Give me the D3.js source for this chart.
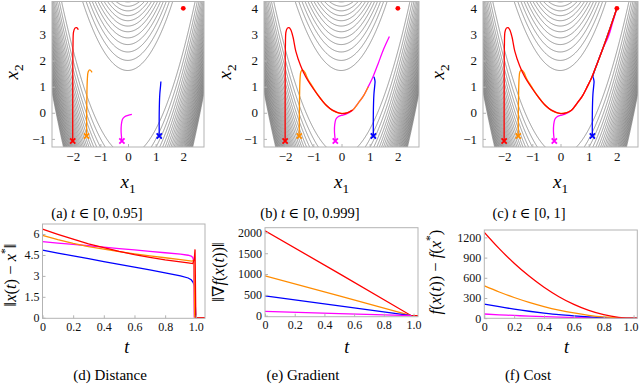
<!DOCTYPE html>
<html>
<head>
<meta charset="utf-8">
<script src="https://cdn.jsdelivr.net/npm/d3@7"></script>
<style>
body { margin: 0; background: #fff; }
svg { font-family: "Liberation Serif", "DejaVu Serif", serif; }
</style>
</head>
<body>
<svg id="chart" width="640" height="385"></svg>
<script>
// ---- data ----
var colors = { red: '#ff0000', orange: '#ff8c00', blue: '#0000ff', magenta: '#ff00ff' };

var xTicksTop = [-2, -1, 0, 1, 2];
var yTicksTop = [-1, 0, 1, 2, 3, 4];
var contourLevels = d3.range(135, 2350, 70);
var xStar = [2, 4];

// trajectories: [x1, x2, t]
var trajRed = [[-2.0, -1.08, 0], [-2.0, 0.5, 0.4], [-1.99, 2.6, 0.85], [-1.97, 3.1, 0.92], [-1.92, 3.24, 0.94],
  [-1.86, 3.26, 0.945], [-1.8, 3.18, 0.95], [-1.72, 2.9, 0.96], [-1.62, 2.35, 0.97], [-1.45, 1.8, 0.978],
  [-1.27, 1.38, 0.984], [-1.0, 0.92, 0.988], [-0.79, 0.61, 0.991], [-0.55, 0.3, 0.994], [-0.32, 0.1, 0.996],
  [0, -0.03, 0.998], [0.2, 0.0, 0.9985], [0.39, 0.1, 0.999], [0.6, 0.38, 0.9993], [0.78, 0.65, 0.9994],
  [0.95, 1.0, 0.9995], [1.1, 1.33, 0.9996], [1.3, 1.88, 0.9997], [1.5, 2.45, 0.9998], [1.75, 3.2, 0.9999], [2.0, 4.0, 1]];
var trajOrange = [[-1.5, -0.89, 0], [-1.49, 0.5, 0.5], [-1.47, 1.3, 0.85], [-1.44, 1.57, 0.92], [-1.38, 1.64, 0.94],
  [-1.3, 1.55, 0.95], [-1.2, 1.3, 0.965], [-1.05, 1.04, 0.975], [-0.85, 0.7, 0.985], [-0.5, 0.24, 0.99],
  [-0.2, 0.02, 0.995], [0.1, -0.02, 0.997], [0.39, 0.1, 0.998], [0.6, 0.38, 0.9985], [0.78, 0.65, 0.9988],
  [0.95, 1.0, 0.999], [1.1, 1.33, 0.9995], [1.5, 2.45, 0.9998], [2.0, 4.0, 1]];
var trajBlue = [[1.13, -0.89, 0], [1.13, 0, 0.5], [1.15, 0.7, 0.8], [1.18, 1.05, 0.9], [1.19, 1.2, 0.95],
  [1.17, 1.32, 0.98], [1.15, 1.38, 0.999], [1.3, 1.88, 0.9995], [1.5, 2.45, 0.9997], [2.0, 4.0, 1]];
var trajMagenta = [[-0.22, -1.08, 0], [-0.25, -0.7, 0.4], [-0.24, -0.45, 0.7], [-0.2, -0.25, 0.85], [-0.12, -0.15, 0.9],
  [0, -0.1, 0.93], [0.14, -0.06, 0.95], [0.39, 0.1, 0.97], [0.6, 0.38, 0.98], [0.78, 0.65, 0.99], [0.95, 1.0, 0.994],
  [1.1, 1.33, 0.996], [1.3, 1.88, 0.997], [1.5, 2.45, 0.998], [1.7, 2.92, 0.999], [1.85, 3.45, 0.9995], [2.0, 4.0, 1]];

var tTicks = [0, 0.2, 0.4, 0.6, 0.8, 1.0];

// distance ||x(t) - x*||: [t, value]
var distRed = [[0, 6.35], [0.1, 5.98], [0.2, 5.63], [0.3, 5.3], [0.4, 5.02], [0.5, 4.76], [0.6, 4.53], [0.7, 4.33],
  [0.8, 4.15], [0.9, 4.0], [0.95, 3.93], [0.98, 3.88], [0.99, 4.2], [0.995, 4.9], [0.998, 2.0], [1.0, 0], [1.06, 0]];
var distOrange = [[0, 5.9], [0.1, 5.6], [0.2, 5.33], [0.3, 5.1], [0.4, 4.92], [0.5, 4.74], [0.6, 4.58], [0.7, 4.44],
  [0.8, 4.3], [0.9, 4.17], [0.95, 4.1], [0.975, 4.06], [0.988, 4.12], [0.992, 0]];
var distMagenta = [[0, 5.45], [0.1, 5.35], [0.2, 5.26], [0.3, 5.16], [0.4, 5.06], [0.5, 4.96], [0.6, 4.86], [0.7, 4.76],
  [0.8, 4.66], [0.9, 4.56], [0.95, 4.48], [0.97, 4.42], [0.98, 4.32], [0.986, 4.1], [0.99, 0]];
var distBlue = [[0, 4.85], [0.1, 4.64], [0.2, 4.43], [0.3, 4.23], [0.4, 4.03], [0.5, 3.83], [0.6, 3.63], [0.7, 3.43],
  [0.8, 3.22], [0.9, 3.0], [0.95, 2.85], [0.97, 2.72], [0.98, 2.58], [0.992, 2.3], [1.0, 0]];
var distTicks = [0, 1.5, 3, 4.5, 6];

// gradient ||grad f(x(t))||
var gradRed = [[0, 2040], [0.5, 1010], [0.985, 0], [1.03, 0]];
var gradOrange = [[0, 955], [0.5, 475], [0.985, 0]];
var gradBlue = [[0, 475], [0.5, 238], [0.985, 0]];
var gradMagenta = [[0, 105], [0.5, 52], [0.985, 0]];
var gradTicks = [0, 500, 1000, 1500, 2000];

// cost f(x(t)) - f(x*)
var tCost = [0, 0.1, 0.2, 0.3, 0.4, 0.5, 0.6, 0.7, 0.8, 0.9, 1.0, 1.025];
var costRed = [1275, 1033, 816, 625, 459, 319, 204, 115, 51, 13, 0, 0];
var costOrange = [480, 389, 307, 235, 173, 120, 77, 43, 19, 5, 0, 0];
var costBlue = [210, 170, 134, 103, 76, 52, 34, 19, 8, 2, 0, 0];
var costMagenta = [62, 50, 40, 30, 22, 15, 10, 6, 2, 1, 0, 0];
var costTicks = [0, 300, 600, 900, 1200];

// ---- drawing ----
var svg = d3.select('#chart');
var defs = svg.append('defs');
var frameColor = '#b3b3b3';

function f(a, b) {
  return (2 - a) * (2 - a) + 50 * (b - a * a) * (b - a * a);
}

// contour grid, a bit larger than the plotted window
var gx0 = -3.1, gx1 = 3.1, gy0 = -1.6, gy1 = 4.6, nx = 320, ny = 320;
var stepX = (gx1 - gx0) / (nx - 1), stepY = (gy1 - gy0) / (ny - 1);
var values = new Array(nx * ny);
for (var j = 0; j < ny; j++) {
  for (var i = 0; i < nx; i++) {
    values[j * nx + i] = f(gx0 + i * stepX, gy0 + j * stepY);
  }
}
var contourSet = d3.contours().size([nx, ny]).thresholds(contourLevels)(values);

function addText(g, parts, size) {
  parts.forEach(function (p) {
    var ts = g.append('tspan').text(p.s);
    if (p.i) ts.attr('font-style', 'italic');
    if (p.sub) ts.attr('font-size', size * 0.7).attr('dy', size * 0.28);
    if (p.sup) ts.attr('font-size', size * 0.7).attr('dy', -size * 0.4);
    if (p.back) ts.attr('dy', p.back);
  });
}

function styleAxis(a, size) {
  a.attr('font-family', null).attr('font-size', null);
  a.select('.domain').remove();
  a.selectAll('line').attr('stroke', frameColor);
  a.selectAll('text').attr('font-size', size).attr('fill', '#111');
}

var topFrames = [
  { id: 'a', left: 52, right: 204, tMax: 0.95, cx: 97, labelX: 13, cap: ' ∈ [0, 0.95]' },
  { id: 'b', left: 264, right: 419, tMax: 0.999, cx: 310, labelX: 226, cap: ' ∈ [0, 0.999]' },
  { id: 'c', left: 483, right: 638, tMax: 1, cx: 529, labelX: 439, cap: ' ∈ [0, 1]' }
];
var trajs = [
  { d: trajMagenta, c: colors.magenta },
  { d: trajBlue, c: colors.blue },
  { d: trajOrange, c: colors.orange },
  { d: trajRed, c: colors.red }
];

topFrames.forEach(function (p) {
  var top = 1.5, bottom = 147;
  var mid = (p.left + p.right) / 2, half = (p.right - p.left) / 2;
  var x = d3.scaleLinear().domain([-2.75, 2.75]).range([mid - half, mid + half]);
  var y = d3.scaleLinear().domain([-1.31, 4.26]).range([bottom, top]);
  var g = svg.append('g');

  defs.append('clipPath').attr('id', 'clip-' + p.id)
    .append('rect').attr('x', p.left).attr('y', top).attr('width', p.right - p.left).attr('height', bottom - top);

  var proj = d3.geoTransform({
    point: function (px, py) {
      this.stream.point(x(gx0 + (px - 0.5) * stepX), y(gy0 + (py - 0.5) * stepY));
    }
  });
  var path = d3.geoPath(proj);
  var plot = g.append('g').attr('clip-path', 'url(#clip-' + p.id + ')');
  plot.selectAll('path.ct').data(contourSet).enter().append('path')
    .attr('class', 'ct')
    .attr('d', path)
    .attr('fill', 'none')
    .attr('stroke', '#5a5a5a')
    .attr('stroke-width', 0.6);

  var line = d3.line()
    .x(function (d) { return x(d[0]); })
    .y(function (d) { return y(d[1]); })
    .curve(d3.curveCatmullRom.alpha(0.5));
  trajs.forEach(function (tr) {
    var pts = tr.d.filter(function (d) { return d[2] <= p.tMax + 1e-9; });
    plot.append('path').attr('d', line(pts))
      .attr('fill', 'none').attr('stroke', tr.c).attr('stroke-width', 1.3);
  });
  trajs.forEach(function (tr) {
    var s = tr.d[0], cx = x(s[0]), cy = y(s[1]), r = 2.6;
    plot.append('path')
      .attr('d', 'M' + (cx - r) + ',' + (cy - r) + 'L' + (cx + r) + ',' + (cy + r) +
        'M' + (cx - r) + ',' + (cy + r) + 'L' + (cx + r) + ',' + (cy - r))
      .attr('stroke', tr.c).attr('stroke-width', 1.8);
  });
  plot.append('circle').attr('cx', x(xStar[0])).attr('cy', y(xStar[1])).attr('r', 2.4).attr('fill', colors.red);

  g.append('rect').attr('x', p.left).attr('y', top).attr('width', p.right - p.left).attr('height', bottom - top)
    .attr('fill', 'none').attr('stroke', frameColor);

  var ax = g.append('g').attr('transform', 'translate(0,' + bottom + ')')
    .call(d3.axisBottom(x).tickValues(xTicksTop).tickSize(-3).tickPadding(5).tickFormat(d3.format('d')));
  var ay = g.append('g').attr('transform', 'translate(' + p.left + ',0)')
    .call(d3.axisLeft(y).tickValues(yTicksTop).tickSize(-3).tickPadding(6).tickFormat(d3.format('d')));
  styleAxis(ax, 13);
  styleAxis(ay, 13);

  var lx = svg.append('text').attr('x', x(0)).attr('y', 188).attr('text-anchor', 'middle').attr('font-size', 19);
  addText(lx, [{ s: 'x', i: 1 }, { s: '1', sub: 1 }], 19);
  var ly = svg.append('text').attr('transform', 'translate(' + (p.labelX + 5) + ',72) rotate(-90)')
    .attr('text-anchor', 'middle').attr('font-size', 19);
  addText(ly, [{ s: 'x', i: 1 }, { s: '2', sub: 1 }], 19);

  var cap = svg.append('text').attr('x', p.cx).attr('y', 218).attr('text-anchor', 'middle').attr('font-size', 14.5);
  addText(cap, [{ s: '(' + p.id + ') ' }, { s: 't', i: 1 }, { s: p.cap }], 14.5);
});

function linePanel(p) {
  var x = d3.scaleLinear().domain(p.xd).range([p.left, p.right]);
  var y = d3.scaleLinear().domain(p.yd).range([p.bottom, p.top]);
  var g = svg.append('g');
  defs.append('clipPath').attr('id', 'clip-' + p.id)
    .append('rect').attr('x', p.left).attr('y', p.top).attr('width', p.right - p.left).attr('height', p.bottom - p.top);
  var plot = g.append('g').attr('clip-path', 'url(#clip-' + p.id + ')');
  var line = d3.line()
    .x(function (d) { return x(d[0]); })
    .y(function (d) { return y(d[1]); })
    .curve(p.curve || d3.curveLinear);
  p.series.forEach(function (s) {
    plot.append('path').attr('d', line(s.d))
      .attr('fill', 'none').attr('stroke', s.c).attr('stroke-width', 1.3);
  });
  g.append('rect').attr('x', p.left).attr('y', p.top).attr('width', p.right - p.left).attr('height', p.bottom - p.top)
    .attr('fill', 'none').attr('stroke', frameColor);
  var ax = g.append('g').attr('transform', 'translate(0,' + p.bottom + ')')
    .call(d3.axisBottom(x).tickValues(tTicks).tickSize(-3).tickPadding(4)
      .tickFormat(function (d) { return d === 0 ? '0' : d3.format('.1f')(d); }));
  var ay = g.append('g').attr('transform', 'translate(' + p.left + ',0)')
    .call(d3.axisLeft(y).tickValues(p.yt).tickSize(-3).tickPadding(3)
      .tickFormat(function (d) { return String(d); }));
  styleAxis(ax, 12);
  styleAxis(ay, 12);
  if (p.right > 630) {
    ax.selectAll('text').filter(function (d) { return d === 1; }).attr('dx', -3);
  }
  svg.append('text').attr('x', x(0.55)).attr('y', 353).attr('text-anchor', 'middle')
    .attr('font-size', 18).attr('font-style', 'italic').text('t');
  var ly = svg.append('text').attr('transform', 'translate(' + p.labelX + ',' + p.labelY + ') rotate(-90)')
    .attr('text-anchor', 'middle').attr('font-size', 16.5);
  addText(ly, p.label, 16.5);
  svg.append('text').attr('x', p.cx).attr('y', 380).attr('text-anchor', 'middle').attr('font-size', 15)
    .text(p.caption);
}

function zipT(ts, vs) {
  return ts.map(function (t, k) { return [t, vs[k]]; });
}

linePanel({
  id: 'd', left: 42.5, right: 205, top: 224, bottom: 318.3, xd: [0, 1.06], yd: [-0.04, 6.72], yt: distTicks,
  series: [{ d: distBlue, c: colors.blue }, { d: distMagenta, c: colors.magenta },
    { d: distOrange, c: colors.orange }, { d: distRed, c: colors.red }],
  labelX: 16, labelY: 275, cx: 110, caption: '(d) Distance',
  label: [{ s: '‖' }, { s: 'x', i: 1 }, { s: '(' }, { s: 't', i: 1 }, { s: ') − ' }, { s: 'x', i: 1 },
    { s: '*', sup: 1 }, { s: '‖', back: 16.5 * 0.4 }]
});

linePanel({
  id: 'e', left: 265, right: 418, top: 227.7, bottom: 316.7, xd: [0, 1.03], yd: [-24, 2113], yt: gradTicks,
  series: [{ d: gradRed, c: colors.red }, { d: gradOrange, c: colors.orange },
    { d: gradBlue, c: colors.blue }, { d: gradMagenta, c: colors.magenta }],
  labelX: 224, labelY: 272, cx: 303, caption: '(e) Gradient',
  label: [{ s: '‖∇' }, { s: 'f', i: 1 }, { s: '(' }, { s: 'x', i: 1 }, { s: '(' }, { s: 't', i: 1 }, { s: '))‖' }]
});

linePanel({
  id: 'f', left: 484.3, right: 637.3, top: 230, bottom: 318.3, xd: [0, 1.025], yd: [-2, 1310], yt: costTicks,
  curve: d3.curveMonotoneX,
  series: [{ d: zipT(tCost, costMagenta), c: colors.magenta }, { d: zipT(tCost, costBlue), c: colors.blue },
    { d: zipT(tCost, costOrange), c: colors.orange }, { d: zipT(tCost, costRed), c: colors.red }],
  labelX: 441, labelY: 272, cx: 528, caption: '(f) Cost',
  label: [{ s: 'f', i: 1 }, { s: '(' }, { s: 'x', i: 1 }, { s: '(' }, { s: 't', i: 1 }, { s: ')) − ' },
    { s: 'f', i: 1 }, { s: '(' }, { s: 'x', i: 1 }, { s: '*', sup: 1 }, { s: ')', back: 16.5 * 0.4 }]
});
</script>
</body>
</html>
